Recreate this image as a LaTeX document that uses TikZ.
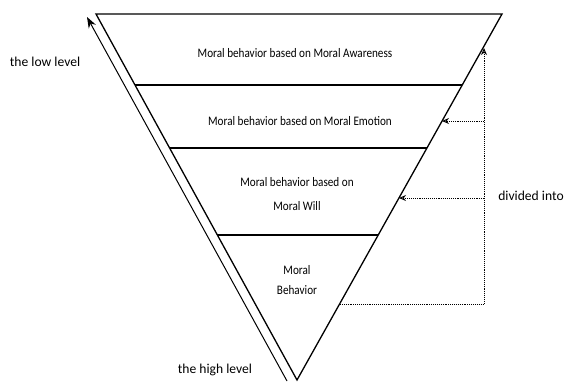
\documentclass[tikz,border=0pt]{standalone}
\usepackage{fontspec}
\setmainfont{Carlito}
\newfontfamily\narrowfont[FakeStretch=0.86]{Carlito}
\usetikzlibrary{arrows.meta}
\begin{document}
\begin{tikzpicture}[x=1pt,y=-1pt,
  side/.style={line width=1.3pt,line join=miter},
  layerline/.style={line width=1.8pt},
  dots/.style={densely dotted,line width=0.9pt},
  dotarrow/.style={dots,-{Stealth[length=7pt,width=6pt,open]}},
  inner/.style={font=\narrowfont\fontsize{13}{15}\selectfont,align=center,inner sep=0pt},
  outer/.style={font=\fontsize{13.6}{16}\selectfont,inner sep=0pt}]
\useasboundingbox (0,0) rectangle (564,383);
% triangle corners
\coordinate (tl) at (96,14);
\coordinate (tr) at (502,14);
\coordinate (ap) at (297,380);
\draw[side] (tl) -- (tr) -- (ap) -- cycle;
% layer lines
\coordinate (l1a) at (135,85);  \coordinate (l1b) at (462,85);
\coordinate (l2a) at (169.6,148); \coordinate (l2b) at (427,148);
\coordinate (l3a) at (217,235); \coordinate (l3b) at (378,235);
\draw[layerline] (l1a) -- (l1b);
\draw[layerline] (l2a) -- (l2b);
\draw[layerline] (l3a) -- (l3b);
% texts
\node[inner] (t1) at (295,53) {Moral behavior based on Moral Awareness};
\node[inner] (t2) at (300,121) {Moral behavior based on Moral Emotion};
\node[inner] (t3a) at (297,182) {Moral behavior based on};
\node[inner] (t3b) at (297,206) {Moral Will};
\node[inner] (t4a) at (297,270) {Moral};
\node[inner] (t4b) at (297,290) {Behavior};
\node[outer] (low) at (45,62) {the low level};
\node[outer] (high) at (215,370) {the high level};
\node[outer] (div) at (531,196) {divided into};
% left level arrow
\coordinate (arrbot) at (287,381);
\coordinate (arrtop) at (87,17);
\draw[line width=1pt,-{Stealth[length=11pt,width=8pt]}] (arrbot) -- (arrtop);
% dotted connectors
\coordinate (d0) at (340,304);
\coordinate (d1) at (484,304);
\coordinate (dtop) at (484,48);
\coordinate (h1) at (484,121);
\coordinate (h1e) at (442,121);
\coordinate (h2) at (484,198);
\coordinate (h2e) at (399,198);
\draw[dotarrow] (d0) -- (d1) -- (dtop);
\draw[dotarrow] (h1) -- (h1e);
\draw[dotarrow] (h2) -- (h2e);
\end{tikzpicture}
\end{document}
